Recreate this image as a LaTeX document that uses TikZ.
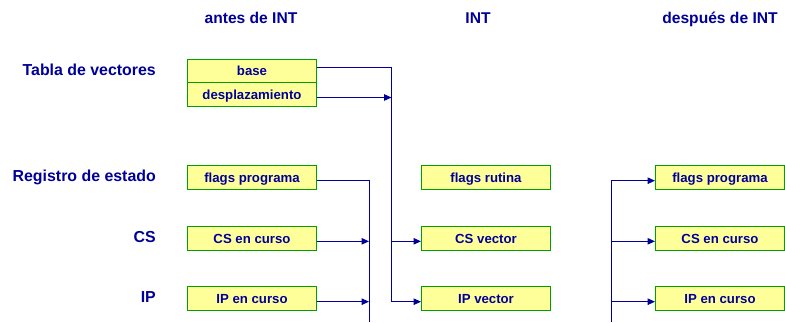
\documentclass[tikz,border=0pt]{standalone}
\usepackage{fontspec}
\setmainfont{Liberation Sans}
\usepackage{xcolor}
\usepackage{tikz}
\usetikzlibrary{arrows.meta}
\definecolor{azul}{RGB}{0,0,153}
\definecolor{verde}{RGB}{0,160,0}
\definecolor{amarillo}{RGB}{255,255,153}
\tikzset{
  caja/.style={
    draw=verde, fill=amarillo, line width=1pt,
    minimum width=129pt, minimum height=23.5pt, inner sep=0pt,
    text height=9.4pt, text depth=0pt, text=azul,
    font=\fontsize{13.2}{15}\selectfont\bfseries
  },
  titulo/.style={font=\fontsize{15.6}{18}\selectfont\bfseries, text=azul, inner sep=0pt, anchor=base},
  rotulo/.style={titulo, font=\fontsize{15.9}{18}\selectfont\bfseries, anchor=base east},
  linea/.style={draw=azul, line width=1pt},
  flecha/.style={linea, -{Triangle[length=7.5pt,width=6.5pt]}}
}

\begin{document}
\begin{tikzpicture}[x=1pt, y=-1pt]
	\useasboundingbox (0,0) rectangle (785,322);
	\node[titulo] (hantes) at (251,23.3) {antes de INT};
	\node[titulo] (hint) at (478,23.3) {INT};
	\node[titulo] (hdespues) at (720,23.3) {después de INT};
	\node[rotulo] (ltabla) at (156,75) {Tabla de vectores};
	\node[rotulo] (lestado) at (156,181) {Registro de estado};
	\node[rotulo] (lcs) at (156,242.3) {CS};
	\node[rotulo] (lip) at (156,302.3) {IP};
	\node[caja] (base) at (252,71) {base};
	\node[caja] (desp) at (252,94.5) {desplazamiento};
	\node[caja] (flagsa) at (252,177.7) {flags programa};
	\node[caja] (csa) at (252,238.3) {CS en curso};
	\node[caja] (ipa) at (252,298.7) {IP en curso};
	\node[caja] (flagsr) at (486,177.7) {flags rutina};
	\node[caja] (csv) at (486,238.3) {CS vector};
	\node[caja] (ipv) at (486,298.7) {IP vector};
	\node[caja] (flagsd) at (720,177.7) {flags programa};
	\node[caja] (csd) at (720,238.3) {CS en curso};
	\node[caja] (ipd) at (720,298.7) {IP en curso};
	\coordinate (ramaint) at (391.5,301.7);
	\coordinate (pilaa) at (369,322);
	\coordinate (pilad) at (611,322);
	\draw[linea] ([yshift=4pt]base.east) -| (ramaint);
	\draw[flecha] ([yshift=-3pt]desp.east) -- ([yshift=-3pt]desp.east -| ramaint);
	\draw[flecha] ([yshift=-3pt]csv.west -| ramaint) -- ([yshift=-3pt]csv.west);
	\draw[flecha] (ramaint) -- (ramaint -| ipv.west);
	\draw[linea] ([yshift=-3pt]flagsa.east) -| (pilaa);
	\draw[flecha] ([yshift=-3pt]csa.east) -- ([yshift=-3pt]csa.east -| pilaa);
	\draw[flecha] ([yshift=-3pt]ipa.east) -- ([yshift=-3pt]ipa.east -| pilaa);
	\draw[flecha] (pilad) |- ([yshift=-3pt]flagsd.west);
	\draw[flecha] ([yshift=-3pt]csd.west -| pilad) -- ([yshift=-3pt]csd.west);
	\draw[flecha] ([yshift=-3pt]ipd.west -| pilad) -- ([yshift=-3pt]ipd.west);
\end{tikzpicture}
\end{document}
